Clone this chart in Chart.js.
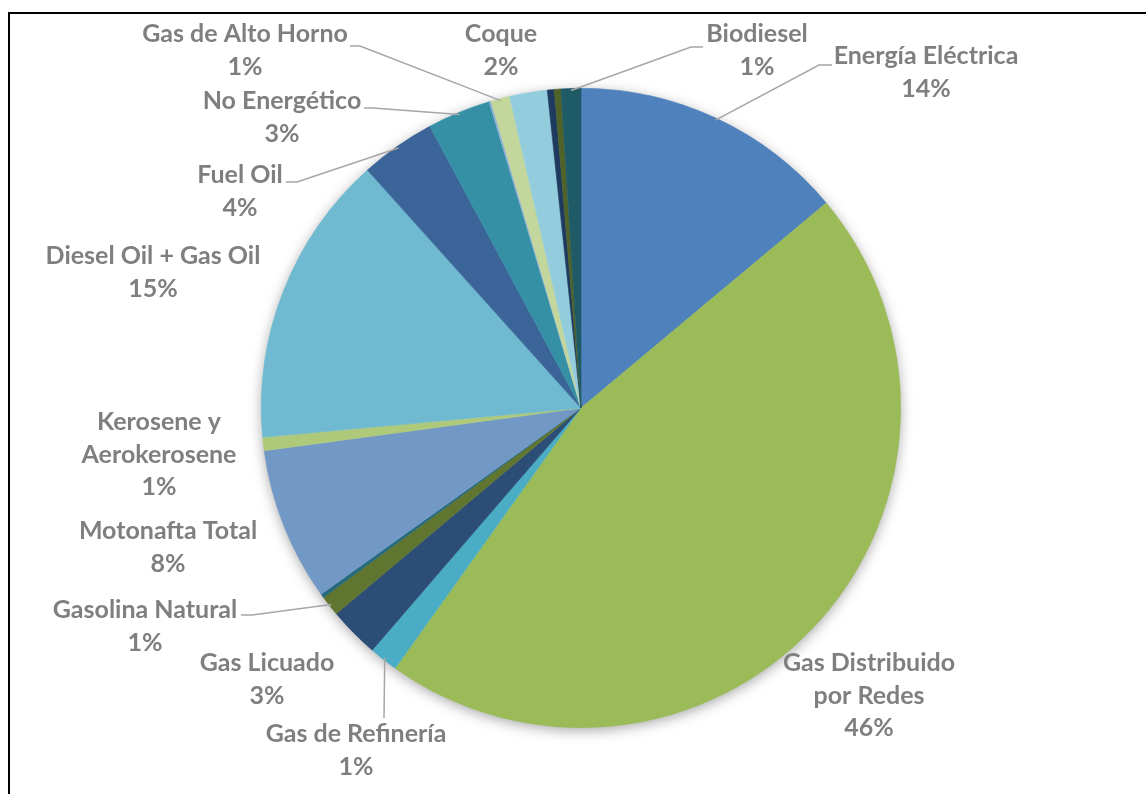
<!DOCTYPE html>
<html lang="es">
<head>
<meta charset="utf-8">
<title>Consumo final por fuente</title>
<script src="https://cdn.jsdelivr.net/npm/chart.js@4.4.1/dist/chart.umd.min.js"></script>
<style>
  html, body { margin: 0; padding: 0; background: #ffffff; }
  #wrap { position: relative; width: 1146px; height: 794px; overflow: hidden; }
  #frame { position: absolute; left: 8px; top: 12px; width: 1160px; height: 800px;
           border-left: 2px solid #000; border-top: 2px solid #000; box-sizing: border-box; }
  canvas { position: absolute; left: 0; top: 0; }
</style>
</head>
<body>
<div id="wrap">
  <div id="frame"></div>
  <canvas id="chart" width="1146" height="794"></canvas>
</div>
<script>
// Fuentes secundarias, en el orden del balance
const categories = [
  'Energía Eléctrica', 'Gas Distribuido por Redes', 'Gas de Refinería', 'Gas Licuado',
  'Gasolina Natural', 'Otras Naftas', 'Motonafta Total', 'Kerosene y Aerokerosene',
  'Diesel Oil + Gas Oil', 'Fuel Oil', 'Carbón Residual', 'No Energético',
  'Gas de Coquería', 'Gas de Alto Horno', 'Coque', 'Carbón de Leña', 'Bioetanol', 'Biodiesel'
];

// Participación (%)
const shares = [
  13.9, 45.9, 1.45, 2.55,
  1.03, 0.2, 7.75, 0.67,
  14.8, 3.8, 0, 3.2,
  0.1, 0.95, 1.9, 0.35, 0.33, 1.0
];

const sliceColors = [
  '#4F81BD', '#9BBB59', '#4BACC6', '#2C4D75',
  '#5F7530', '#276A7C', '#7299C6', '#AFC97A',
  '#6FBAD0', '#3B6499', '#7E9D3F', '#3590A6',
  '#95B3D7', '#C3D69B', '#93CDDD', '#1F3A5F', '#4F6228', '#1F5A67'
];

// Ubicación de las etiquetas: centro del bloque de texto, cortes de línea y guía
const labelLayout = {
  'Energía Eléctrica':         { x: 926, y: 56,  breakAfter: 0, leader: [832, 65, 819, 65] },
  'Gas Distribuido por Redes': { x: 869, y: 663, breakAfter: 2 },
  'Gas de Refinería':          { x: 356, y: 734, breakAfter: 0, leader: [384, 718, 384, 718] },
  'Gas Licuado':               { x: 267, y: 663, breakAfter: 0 },
  'Gasolina Natural':          { x: 145, y: 610, breakAfter: 0, leader: [241, 615, 252, 615] },
  'Motonafta Total':           { x: 168, y: 531, breakAfter: 0 },
  'Kerosene y Aerokerosene':   { x: 159, y: 422, breakAfter: 2 },
  'Diesel Oil + Gas Oil':      { x: 153, y: 256, breakAfter: 0 },
  'Fuel Oil':                  { x: 240, y: 175, breakAfter: 0, leader: [286, 182, 297, 182] },
  'No Energético':             { x: 282, y: 101, breakAfter: 0, leader: [364, 108, 373, 108] },
  'Gas de Alto Horno':         { x: 245, y: 34,  breakAfter: 0, leader: [350, 46, 360, 46] },
  'Coque':                     { x: 501, y: 34,  breakAfter: 0 },
  'Biodiesel':                 { x: 757, y: 34,  breakAfter: 0, leader: [703, 47, 691, 47] }
};

const LABEL_FONT = 'bold 25px Lato';
const LABEL_COLOR = '#7F7F7F';
const LINE_GAP = 32.5;

// Sombra suave bajo el disco completo
const pieShadow = {
  id: 'pieShadow',
  beforeDatasetsDraw(chart) {
    const arc = chart.getDatasetMeta(0).data[0];
    const { x, y, outerRadius } = arc.getProps(['x', 'y', 'outerRadius'], true);
    const ctx = chart.ctx;
    ctx.save();
    ctx.shadowColor = 'rgba(0,0,0,0.38)';
    ctx.shadowBlur = 14;
    ctx.shadowOffsetX = 0;
    ctx.shadowOffsetY = 3;
    ctx.fillStyle = '#ffffff';
    ctx.beginPath();
    ctx.arc(x, y, outerRadius - 1, 0, Math.PI * 2);
    ctx.fill();
    ctx.restore();
  }
};

// Etiquetas con nombre y porcentaje, y líneas guía hacia la porción
const sliceLabels = {
  id: 'sliceLabels',
  afterDatasetsDraw(chart) {
    const ctx = chart.ctx;
    const meta = chart.getDatasetMeta(0);
    const values = chart.data.datasets[0].data;
    const total = values.reduce((a, b) => a + b, 0);
    ctx.save();
    chart.data.labels.forEach((name, i) => {
      const lay = labelLayout[name];
      if (!lay) return;
      const arc = meta.data[i];
      const p = arc.getProps(['x', 'y', 'startAngle', 'endAngle', 'outerRadius'], true);
      if (lay.leader) {
        const mid = (p.startAngle + p.endAngle) / 2;
        const r = p.outerRadius - 2;
        const ex = p.x + Math.cos(mid) * r;
        const ey = p.y + Math.sin(mid) * r;
        const [sx, sy, kx, ky] = lay.leader;
        ctx.strokeStyle = '#A6A6A6';
        ctx.lineWidth = 1.5;
        ctx.beginPath();
        ctx.moveTo(sx, sy);
        ctx.lineTo(kx, ky);
        ctx.lineTo(ex, ey);
        ctx.stroke();
      }
      const words = name.split(' ');
      const lines = lay.breakAfter
        ? [words.slice(0, lay.breakAfter).join(' '), words.slice(lay.breakAfter).join(' ')]
        : [name];
      lines.push(Math.round(values[i] / total * 100) + '%');
      ctx.font = LABEL_FONT;
      ctx.fillStyle = LABEL_COLOR;
      ctx.textAlign = 'center';
      ctx.textBaseline = 'middle';
      lines.forEach((t, k) => ctx.fillText(t, lay.x, lay.y + k * LINE_GAP));
    });
    ctx.restore();
  }
};

new Chart(document.getElementById('chart'), {
  type: 'pie',
  data: {
    labels: categories,
    datasets: [{
      data: shares,
      backgroundColor: sliceColors,
      borderColor: sliceColors,
      borderWidth: 0.6
    }]
  },
  options: {
    responsive: false,
    animation: false,
    events: [],
    layout: { padding: { left: 261, right: 245, top: 88, bottom: 66 } },
    plugins: {
      legend: { display: false },
      tooltip: { enabled: false },
      title: { display: false }
    }
  },
  plugins: [pieShadow, sliceLabels]
});
</script>
</body>
</html>
